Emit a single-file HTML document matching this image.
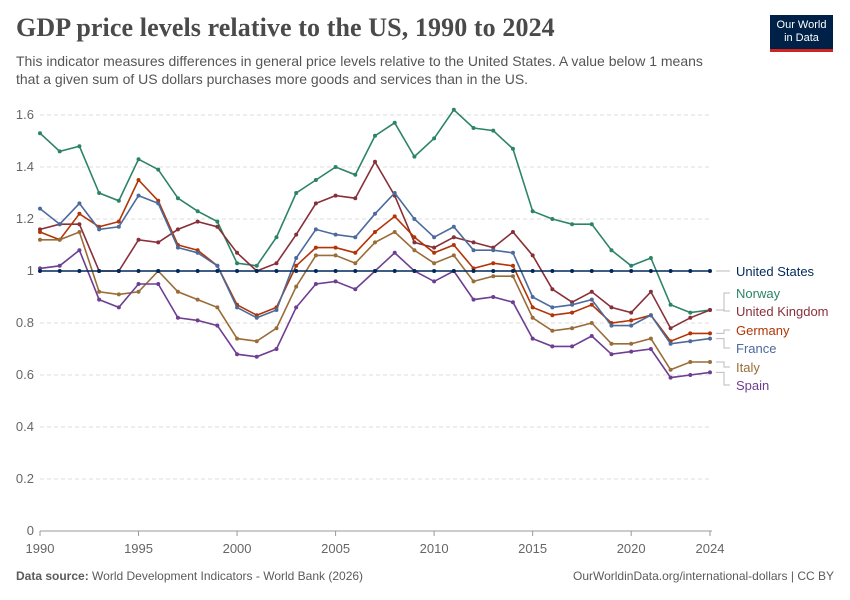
<!DOCTYPE html>
<html><head><meta charset="utf-8"><style>
body{margin:0;background:#fff;font-family:"Liberation Sans",sans-serif;}
#wrap{position:relative;width:850px;height:600px;overflow:hidden;}
h1{position:absolute;left:16px;top:13px;margin:0;font-family:"Liberation Serif",serif;font-weight:bold;font-size:26px;color:#4a4a4a;letter-spacing:0.1px;}
.sub{position:absolute;left:16px;top:52px;width:712px;font-size:14px;line-height:18px;color:#555;}
.logo{position:absolute;left:770px;top:15px;width:63px;height:37px;background:#002147;color:#fff;font-size:11px;line-height:13px;text-align:center;padding-top:4px;box-sizing:border-box;border-bottom:3px solid #ce261e;}
.foot{position:absolute;top:569px;font-size:12px;color:#5b5b5b;}
</style></head><body>
<div id="wrap">
<h1>GDP price levels relative to the US, 1990 to 2024</h1>
<div class="sub">This indicator measures differences in general price levels relative to the United States. A value below 1 means that a given sum of US dollars purchases more goods and services than in the US.</div>
<div class="logo">Our World<br>in Data</div>
<svg id="chart" width="850" height="600" style="position:absolute;left:0;top:0"></svg>
<div class="foot" style="left:16px"><b>Data source:</b> World Development Indicators - World Bank (2026)</div>
<div class="foot" style="right:16px">OurWorldinData.org/international-dollars | CC BY</div>
</div>
<script>
const years=[];for(let y=1990;y<=2024;y++)years.push(y);
const yTicks=[0,0.2,0.4,0.6,0.8,1,1.2,1.4,1.6];
const xTicks=[1990,1995,2000,2005,2010,2015,2020,2024];
const usVals=years.map(()=>1);
const norwayVals=[1.53,1.46,1.48,1.30,1.27,1.43,1.39,1.28,1.23,1.19,1.03,1.02,1.13,1.30,1.35,1.40,1.37,1.52,1.57,1.44,1.51,1.62,1.55,1.54,1.47,1.23,1.20,1.18,1.18,1.08,1.02,1.05,0.87,0.84,0.85];
const ukVals=[1.16,1.18,1.18,1.00,1.00,1.12,1.11,1.16,1.19,1.17,1.07,1.00,1.03,1.14,1.26,1.29,1.28,1.42,1.29,1.11,1.09,1.13,1.11,1.09,1.15,1.06,0.93,0.88,0.92,0.86,0.84,0.92,0.78,0.82,0.85];
const franceVals=[1.24,1.18,1.26,1.16,1.17,1.29,1.26,1.09,1.07,1.02,0.86,0.82,0.85,1.05,1.16,1.14,1.13,1.22,1.30,1.20,1.13,1.17,1.08,1.08,1.07,0.90,0.86,0.87,0.89,0.79,0.79,0.83,0.72,0.73,0.74];
const germanyVals=[1.15,1.12,1.22,1.17,1.19,1.35,1.27,1.10,1.08,1.02,0.87,0.83,0.86,1.02,1.09,1.09,1.07,1.15,1.21,1.13,1.07,1.10,1.01,1.03,1.02,0.86,0.83,0.84,0.87,0.80,0.81,0.83,0.73,0.76,0.76];
const italyVals=[1.12,1.12,1.15,0.92,0.91,0.92,1.00,0.92,0.89,0.86,0.74,0.73,0.78,0.94,1.06,1.06,1.03,1.11,1.15,1.08,1.03,1.06,0.96,0.98,0.98,0.82,0.77,0.78,0.80,0.72,0.72,0.74,0.62,0.65,0.65];
const spainVals=[1.01,1.02,1.08,0.89,0.86,0.95,0.95,0.82,0.81,0.79,0.68,0.67,0.70,0.86,0.95,0.96,0.93,1.00,1.07,1.00,0.96,1.00,0.89,0.90,0.88,0.74,0.71,0.71,0.75,0.68,0.69,0.70,0.59,0.60,0.61];
const series=[
 {name:"Norway",vals:norwayVals,color:"#2c8465",ly:293},
 {name:"United Kingdom",vals:ukVals,color:"#883039",ly:311},
 {name:"Germany",vals:germanyVals,color:"#b13507",ly:330},
 {name:"France",vals:franceVals,color:"#4c6a9c",ly:348},
 {name:"Italy",vals:italyVals,color:"#996d39",ly:367},
 {name:"Spain",vals:spainVals,color:"#6d3e91",ly:385},
 {name:"United States",vals:usVals,color:"#00295b",ly:271}
];
const NS="http://www.w3.org/2000/svg";
const svg=document.getElementById('chart');
const X=y=>40+(y-1990)*(670/34);
const Y=v=>531-v*260;
function mk(t,a){const e=document.createElementNS(NS,t);for(const k in a)e.setAttribute(k,a[k]);svg.appendChild(e);return e;}
yTicks.forEach(t=>{
 const l=mk('line',{x1:40,x2:712,y1:Y(t),y2:Y(t),stroke:t===0?'#999':'#ddd','stroke-dasharray':t===0?'':'4,3'});
 
 
 const tx=mk('text',{x:34,y:Y(t)+4,'text-anchor':'end','font-size':13,fill:'#666'});
 tx.textContent=String(t);
 
 
});
xTicks.forEach(t=>{
 mk('line',{x1:X(t),x2:X(t),y1:531,y2:536,stroke:'#999'});
 const tx=mk('text',{x:X(t),y:553,'text-anchor':'middle','font-size':13,fill:'#666'});
 tx.textContent=String(t);
 
 
});
series.forEach(s=>{
 const p=mk('polyline',{points:s.vals.map((v,i)=>X(years[i])+','+Y(v)).join(' '),fill:'none',stroke:s.color,'stroke-width':1.6});
 
 
 s.vals.forEach((v,i)=>{
  const c=mk('circle',{cx:X(years[i]),cy:Y(v),r:2,fill:s.color});
  
  
 });
 const ey=Y(s.vals[s.vals.length-1]);
 mk('path',{d:`M716 ${ey} H724 V${s.ly} H730`,fill:'none',stroke:'#bbb'});
 const tx=mk('text',{x:736,y:s.ly+5,'font-size':13,fill:s.color});
 tx.textContent=s.name;
 
 
});
</script>
</body></html>
